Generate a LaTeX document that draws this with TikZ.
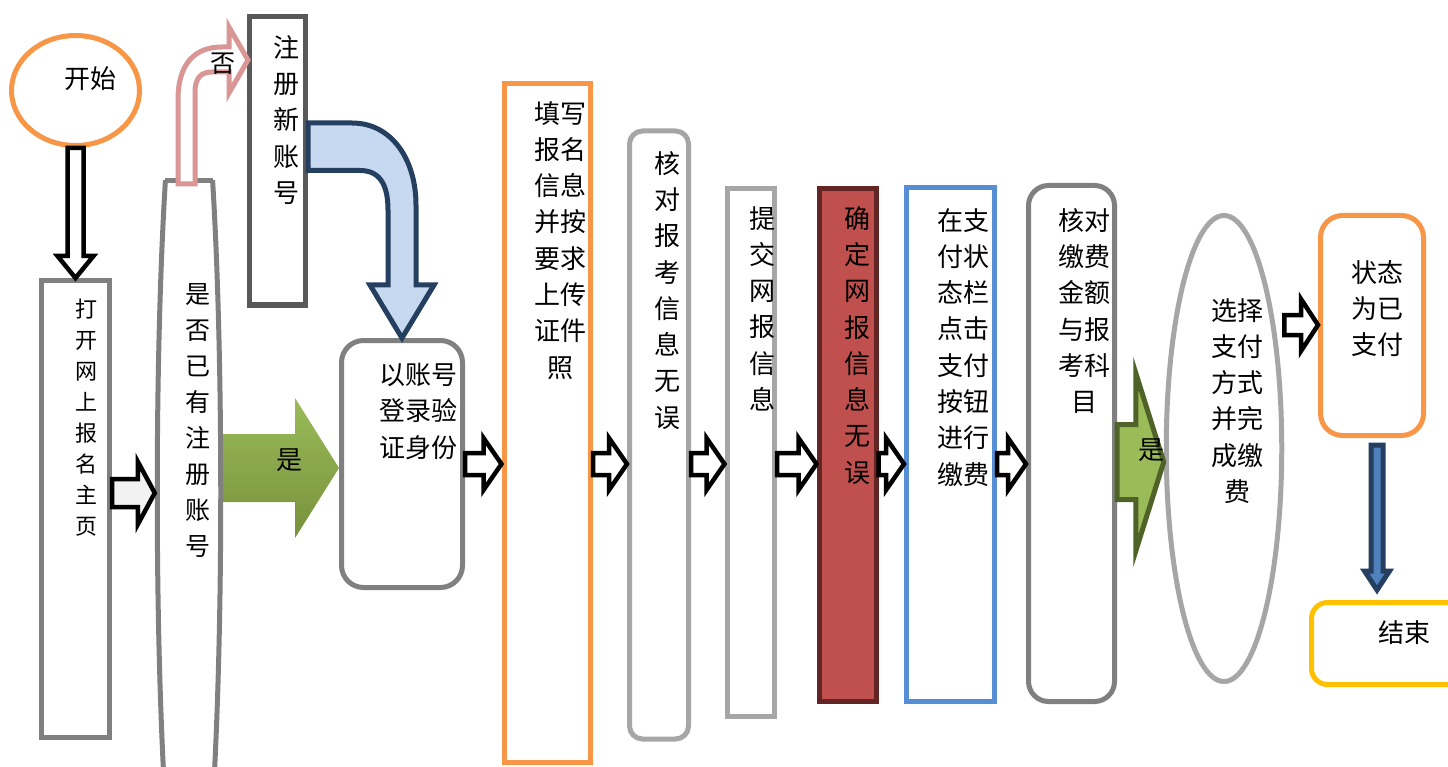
\documentclass[tikz,border=0pt]{standalone}
\usepackage{fontspec}
\newfontfamily\cjk{Noto Sans CJK SC}
\usetikzlibrary{shapes.geometric,calc}
\definecolor{pOrange}{HTML}{F79646}
\definecolor{pGrayA}{HTML}{808080}
\definecolor{pGrayB}{HTML}{A6A6A6}
\definecolor{pGrayC}{HTML}{595959}
\definecolor{pPale}{HTML}{F2F2F2}
\definecolor{pPink}{HTML}{D99694}
\definecolor{pNavy}{HTML}{243F60}
\definecolor{pSky}{HTML}{C6D9F1}
\definecolor{pGreen}{HTML}{9BBB59}
\definecolor{pGreenD}{HTML}{76923C}
\definecolor{pOlive}{HTML}{4F6228}
\definecolor{pRed}{HTML}{C0504D}
\definecolor{pRedD}{HTML}{632523}
\definecolor{pBlue}{HTML}{558ED5}
\definecolor{pSteel}{HTML}{4F81BD}
\definecolor{pGold}{HTML}{FFC000}
\tikzset{
    box/.style={draw, line width=5pt, inner sep=0pt, fill=white},
    oval/.style={ellipse, draw, line width=5pt, inner sep=0pt, fill=white},
    txt/.style={inner sep=0pt, anchor=north, align=center, font=\cjk\fontsize{26}{36.3}\selectfont},
    hollow/.style={draw=black, line width=4.5pt, fill=white},
    hollowgray/.style={hollow, fill=pPale},
    greenfill/.style={top color=pGreen, bottom color=pGreenD, draw=none},
    olivearrow/.style={draw=pOlive, line width=5pt, fill=pGreen},
    pinkbend/.style={draw=pPink, line width=5pt, fill=white},
    bluebend/.style={draw=pNavy, line width=5pt, fill=pSky},
    navyarrow/.style={draw=pNavy, line width=5pt, fill=pSteel}
}
% block arrow to the right: style, tail, tip, half shaft, half head, head length
\newcommand{\blockarrow}[6][]{%
  \draw[#1] let \p1=(#2), \p2=(#3) in
    (\x1,\y1+#4) -- (\x2-#6,\y2+#4) -- (\x2-#6,\y2+#5) -- (\x2,\y2)
    -- (\x2-#6,\y2-#5) -- (\x2-#6,\y2-#4) -- (\x1,\y1-#4) -- cycle;}
% block arrow downwards
\newcommand{\vblockarrow}[6][]{%
  \draw[#1] let \p1=(#2), \p2=(#3) in
    (\x1-#4,\y1) -- (\x2-#4,\y2+#6) -- (\x2-#5,\y2+#6) -- (\x2,\y2)
    -- (\x2+#5,\y2+#6) -- (\x2+#4,\y2+#6) -- (\x1+#4,\y1) -- cycle;}

\begin{document}
\begin{tikzpicture}[x=1pt,y=-1pt]
\fill[white] (0,0) rectangle (1448,767);
\useasboundingbox (0,0) rectangle (1448,767);

% boxes
\node[oval,draw=pOrange,minimum width=128pt,minimum height=110pt] (start) at (75.5,90.5) {};
\node[box,draw=pGrayA,minimum width=68pt,minimum height=457pt] (open) at (75.5,509) {};
\begin{scope}
\clip (0,181) rectangle (400,800);
\node[oval,draw=pGrayA,minimum width=63.5pt,minimum height=934pt] (ask) at (189,493) {};
\end{scope}
\draw[pGrayA,line width=5pt] (165.4,181) -- (212.6,181);
\node[box,draw=pGrayC,minimum width=56pt,minimum height=288.5pt] (reg) at (277.5,160.75) {};
\node[box,draw=pGrayA,rounded corners=22pt,minimum width=121pt,minimum height=247pt] (login) at (402,464) {};
\node[box,draw=pOrange,minimum width=86.5pt,minimum height=679pt] (fill) at (547.25,423) {};
\node[box,draw=pGrayB,rounded corners=13pt,minimum width=59pt,minimum height=608pt] (check) at (659,435) {};
\node[box,draw=pGrayB,minimum width=47.5pt,minimum height=528pt] (submit) at (750.75,452.5) {};
\node[box,draw=pRedD,fill=pRed,minimum width=57pt,minimum height=512pt] (confirm) at (847.5,445) {};
\node[box,draw=pBlue,minimum width=88pt,minimum height=513.5pt] (pay) at (950.5,444.75) {};
\node[box,draw=pGrayA,rounded corners=20pt,minimum width=86pt,minimum height=516pt] (verify) at (1071.5,443.5) {};
\node[oval,draw=pGrayB,minimum width=115.5pt,minimum height=466pt] (choose) at (1224,448.5) {};
\node[box,draw=pOrange,rounded corners=22pt,minimum width=103pt,minimum height=220pt] (state) at (1372,325.5) {};
\node[box,draw=pGold,rounded corners=16pt,minimum width=178.5pt,minimum height=82pt] (finish) at (1400.75,643.5) {};

% texts
\node[txt,anchor=center] (lstart) at (90,78.5) {开始};
\node[txt,font=\cjk\fontsize{22}{31}\selectfont] (lopen) at (86,299) {打\\开\\网\\上\\报\\名\\主\\页};
\node[txt,font=\cjk\fontsize{25}{36}\selectfont] (lask) at (198,283) {是\\否\\已\\有\\注\\册\\账\\号};
\node[txt] (lreg) at (286,35) {注\\册\\新\\账\\号};
\node[txt] (llogin) at (418,363) {以账号\\登录验\\证身份};
\node[txt] (lfill) at (560,101) {填写\\报名\\信息\\并按\\要求\\上传\\证件\\照};
\node[txt] (lcheck) at (667,151) {核\\对\\报\\考\\信\\息\\无\\误};
\node[txt] (lsubmit) at (762,206) {提\\交\\网\\报\\信\\息};
\node[txt] (lconfirm) at (857,206) {确\\定\\网\\报\\信\\息\\无\\误};
\node[txt] (lpay) at (963.5,208) {在支\\付状\\态栏\\点击\\支付\\按钮\\进行\\缴费};
\node[txt] (lverify) at (1084,208) {核对\\缴费\\金额\\与报\\考科\\目};
\node[txt] (lchoose) at (1237.5,298) {选择\\支付\\方式\\并完\\成缴\\费};
\node[txt] (lstate) at (1377.5,260) {状态\\为已\\支付};
\node[txt,anchor=center] (lfinish) at (1404,633) {结束};

% arrows
\coordinate (row) at (0,464);
\coordinate (toprow) at (0,325);
\coordinate (greenrow) at (0,468);
\coordinate (greenrow2) at (0,462);
\coordinate (drop) at ([shift={(5pt,-7pt)}]state.south);
\coordinate (dropend) at ($(finish.north -| drop)+(0,-10)$);

\vblockarrow[hollow]{start.south}{open.north}{8pt}{18pt}{22pt}
\blockarrow[hollowgray]{open.east |- ask.west}{ask.west}{14pt}{31.5pt}{17pt}
\draw[pinkbend] (178,184) -- (178,100) .. controls (178,62) and (196,47) .. (222,47)
    -- (229,47) -- (229,27) -- (248,60) -- (229,93) -- (229,72) -- (212,72)
    .. controls (201,72) and (195,78) .. (195,92) -- (195,184) -- cycle;
\node[txt,anchor=center,font=\cjk\fontsize{25}{30}\selectfont] (lno) at (223,64) {否};
\draw[bluebend] (reg.east |- 0,123) -- (352,123) .. controls (392,123) and (416,160) .. (416,205)
    -- (416,285) -- (434,285) -- (login.north) -- (370,285) -- (388,285) -- (388,210)
    .. controls (388,185) and (380,170.5) .. (360,170.5) -- (reg.east |- 0,170.5) -- cycle;
\blockarrow[greenfill]{ask.east |- greenrow}{login.west |- greenrow}{34pt}{70pt}{44pt}
\node[txt,anchor=center] (lyes) at (289,460) {是};
\blockarrow[hollow]{login.east |- row}{fill.west |- row}{11pt}{26pt}{18pt}
\blockarrow[hollow]{fill.east |- row}{check.west |- row}{11pt}{26pt}{18pt}
\blockarrow[hollow]{check.east |- row}{submit.west |- row}{11pt}{26pt}{18pt}
\blockarrow[hollow]{submit.east |- row}{confirm.west |- row}{11pt}{26pt}{18pt}
\blockarrow[hollow]{confirm.east |- row}{pay.west |- row}{11pt}{26pt}{18pt}
\blockarrow[hollow]{pay.east |- row}{verify.west |- row}{11pt}{26pt}{18pt}
\blockarrow[olivearrow]{verify.east |- greenrow2}{choose.west |- greenrow2}{37.5pt}{89pt}{28pt}
\node[txt,anchor=center] (lyes2) at (1151,450) {是};
\blockarrow[hollow]{choose.east |- toprow}{state.west |- toprow}{10pt}{26pt}{17pt}
\vblockarrow[navyarrow]{drop}{dropend}{6pt}{12.5pt}{19pt}
\end{tikzpicture}
\end{document}
